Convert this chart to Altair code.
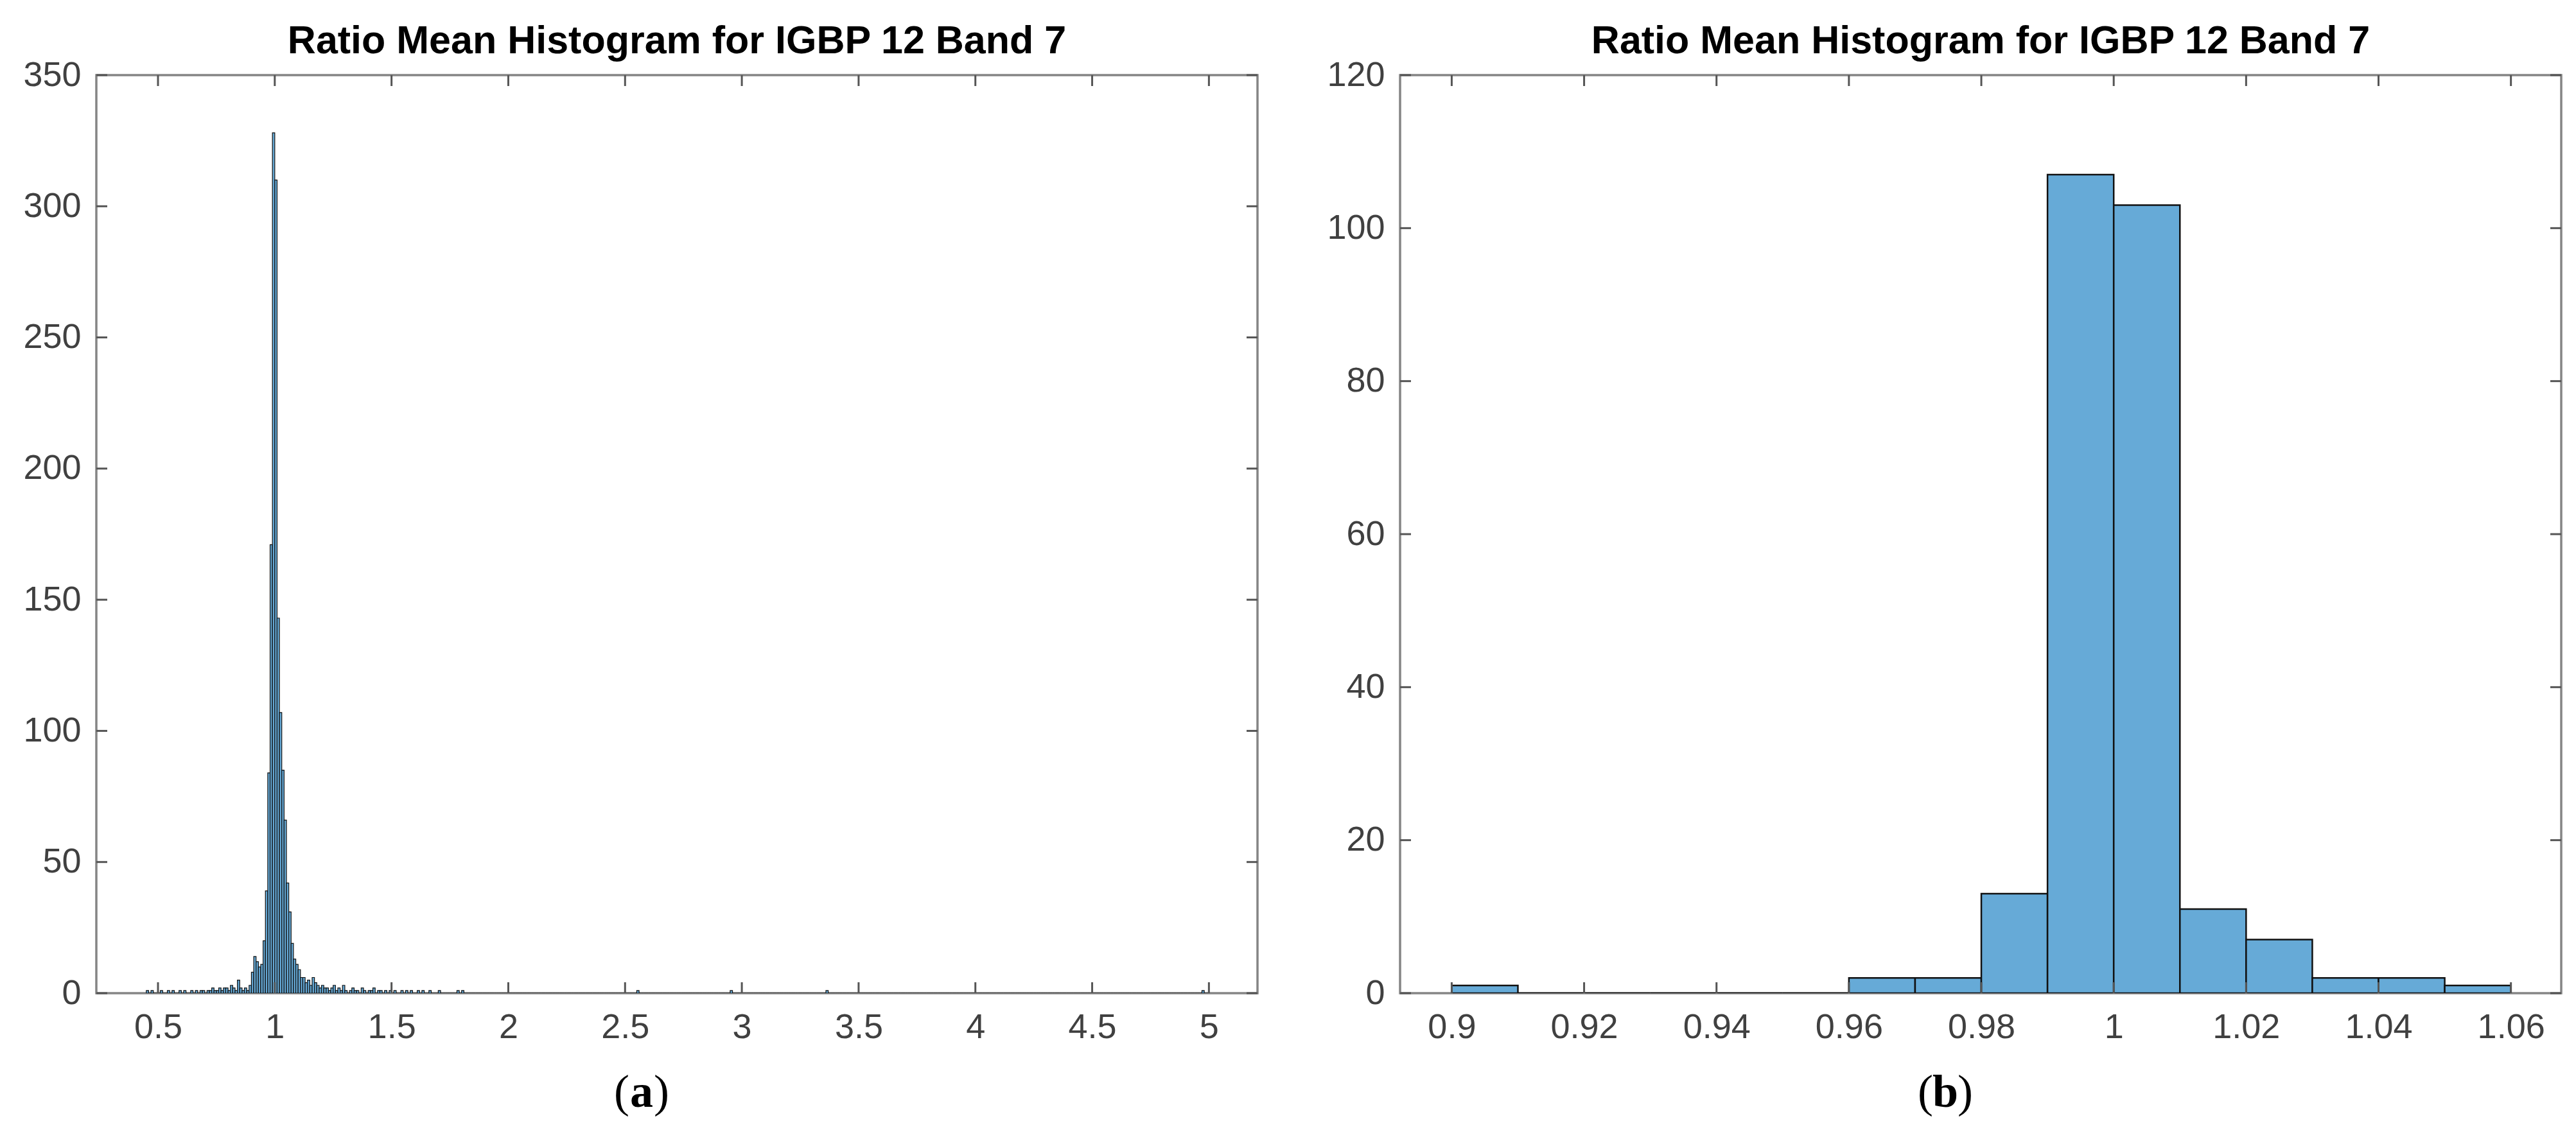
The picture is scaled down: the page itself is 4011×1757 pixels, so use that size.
import altair as alt
import pandas as pd

TITLE = "Ratio Mean Histogram for IGBP 12 Band 7"

# ---------------- data ----------------
# left panel: histogram, bin width 0.01, bins starting at 0.45
LEFT_FIRST_EDGE = 0.45
LEFT_BIN_WIDTH = 0.01
LEFT_LAST_START = 4.99
left_counts_core = [
    1, 0, 1, 0, 0, 0, 1, 0, 0, 1,        # 0.45 - 0.54
    0, 1, 0, 0, 1, 0, 1, 0, 0, 1,        # 0.55 - 0.64
    0, 1, 0, 1, 1, 0, 1, 1, 2, 1,        # 0.65 - 0.74
    1, 2, 1, 2, 2, 1, 3, 2, 1, 5,        # 0.75 - 0.84
    2, 1, 2, 1, 3, 8, 14, 12, 10, 11,    # 0.85 - 0.94
    20, 39, 84, 171, 328, 310, 143, 107, 85, 66,  # 0.95 - 1.04
    42, 31, 19, 13, 11, 9, 6, 6, 4, 5,   # 1.05 - 1.14
    3, 6, 4, 3, 2, 3, 2, 2, 1, 2,        # 1.15 - 1.24
    3, 1, 2, 1, 3, 1, 0, 1, 2, 1,        # 1.25 - 1.34
    1, 0, 2, 1, 0, 1, 1, 2, 0, 1,        # 1.35 - 1.44
    1, 0, 1, 0, 1, 0, 1, 0, 0, 1,        # 1.45 - 1.54
    0, 1, 0, 1, 0, 0, 1, 0, 1, 0,        # 1.55 - 1.64
    0, 1, 0, 0, 0, 1, 0, 0, 0, 0,        # 1.65 - 1.74
    0, 0, 0, 1, 0, 1,                    # 1.75 - 1.80
]
left_outlier_starts = [2.55, 2.95, 3.36, 4.97]
left_outlier_counts = [1, 1, 1, 1]

# right panel: histogram, bin width 0.01, bins starting at 0.90
RIGHT_FIRST_EDGE = 0.90
RIGHT_BIN_WIDTH = 0.01
right_counts = [1, 0, 0, 0, 0, 0, 2, 2, 13, 107, 103, 11, 7, 2, 2, 1]

left_xticks = [0.5, 1, 1.5, 2, 2.5, 3, 3.5, 4, 4.5, 5]
left_yticks = [0, 50, 100, 150, 200, 250, 300, 350]
right_xticks = [0.9, 0.92, 0.94, 0.96, 0.98, 1.0, 1.02, 1.04, 1.06]
right_yticks = [0, 20, 40, 60, 80, 100, 120]

left_xdomain = [0.236, 5.208]
left_ydomain = [0, 350]
right_xdomain = [0.8922, 1.0676]
right_ydomain = [0, 120]

# ---------------- tables ----------------
n_left = int(round((LEFT_LAST_START - LEFT_FIRST_EDGE) / LEFT_BIN_WIDTH)) + 1
left_map = {}
for i, c in enumerate(left_counts_core):
    left_map[i] = c
for s, c in zip(left_outlier_starts, left_outlier_counts):
    left_map[int(round((s - LEFT_FIRST_EDGE) / LEFT_BIN_WIDTH))] = c
left_df = pd.DataFrame({
    "start": [round(LEFT_FIRST_EDGE + i * LEFT_BIN_WIDTH, 4) for i in range(n_left)],
    "end": [round(LEFT_FIRST_EDGE + (i + 1) * LEFT_BIN_WIDTH, 4) for i in range(n_left)],
    "count": [left_map.get(i, 0) for i in range(n_left)],
})
left_df["base"] = 0

right_df = pd.DataFrame({
    "start": [round(RIGHT_FIRST_EDGE + i * RIGHT_BIN_WIDTH, 4) for i in range(len(right_counts))],
    "end": [round(RIGHT_FIRST_EDGE + (i + 1) * RIGHT_BIN_WIDTH, 4) for i in range(len(right_counts))],
    "count": right_counts,
})
right_df["base"] = 0

# ---------------- style ----------------
W, H = 1808, 1430
FILL = "#66AAD7"
TICK_COLOR = "#555555"
TICK_LEN = 17
LABEL_FONT = "Liberation Sans"
LABEL_COLOR = "#404040"
LABEL_SIZE = 54


def panel(df, xdom, ydom, xticks, yticks, letter, stroke_w):
    xs = alt.Scale(domain=xdom, nice=False, zero=False)
    ys = alt.Scale(domain=ydom, nice=False, zero=False)
    xaxis = alt.Axis(
        values=xticks, format="~g", grid=False, domain=False, ticks=False,
        tickSize=0, labelFontSize=LABEL_SIZE, labelFont=LABEL_FONT,
        labelColor=LABEL_COLOR, labelPadding=26, labelFlush=False, title=None)
    yaxis = alt.Axis(
        values=yticks, format="d", grid=False, domain=False, ticks=False,
        tickSize=0, labelFontSize=LABEL_SIZE, labelFont=LABEL_FONT,
        labelColor=LABEL_COLOR, labelPadding=24, minExtent=120, maxExtent=120,
        title=None)
    bars = alt.Chart(df).mark_bar(
        fill=FILL, stroke="#111111", strokeWidth=stroke_w, opacity=1, clip=True
    ).encode(
        x=alt.X("start:Q", scale=xs, axis=xaxis),
        x2="end:Q",
        y=alt.Y("count:Q", scale=ys, axis=yaxis),
        y2="base:Q",
    )
    xt_df = pd.DataFrame({"t": xticks})
    yt_df = pd.DataFrame({"t": yticks})
    xt = alt.Chart(xt_df).mark_rule(color=TICK_COLOR, strokeWidth=3)
    yt = alt.Chart(yt_df).mark_rule(color=TICK_COLOR, strokeWidth=3)
    xb = xt.encode(x=alt.X("t:Q", scale=xs, axis=xaxis), y=alt.value(H), y2=alt.value(H - TICK_LEN))
    xtop = xt.encode(x=alt.X("t:Q", scale=xs, axis=xaxis), y=alt.value(0), y2=alt.value(TICK_LEN))
    yl = yt.encode(y=alt.Y("t:Q", scale=ys, axis=yaxis), x=alt.value(0), x2=alt.value(TICK_LEN))
    yr = yt.encode(y=alt.Y("t:Q", scale=ys, axis=yaxis), x=alt.value(W), x2=alt.value(W - TICK_LEN))

    one = pd.DataFrame({"k": [0]})
    cap_y = H + 177
    cx = 849
    lp = alt.Chart(one).mark_text(text="(", font="Liberation Serif", fontSize=72,
                                  align="right", baseline="alphabetic", color="black").encode(
        x=alt.value(cx - 19), y=alt.value(cap_y))
    lt = alt.Chart(one).mark_text(text=letter, font="Liberation Serif", fontSize=72, fontWeight="bold",
                                  align="center", baseline="alphabetic", color="black").encode(
        x=alt.value(cx), y=alt.value(cap_y))
    rp = alt.Chart(one).mark_text(text=")", font="Liberation Serif", fontSize=72,
                                  align="left", baseline="alphabetic", color="black").encode(
        x=alt.value(cx + 19), y=alt.value(cap_y))

    return alt.layer(bars, xb, xtop, yl, yr, lp, lt, rp).properties(
        width=W, height=H,
        title=alt.TitleParams(TITLE, fontSize=61, font="Liberation Sans", fontWeight="bold",
                              color="#000000", anchor="middle", frame="group", offset=-67,
                              baseline="bottom"),
    )


left = panel(left_df, left_xdomain, left_ydomain, left_xticks, left_yticks, "a", 1.2)
right = panel(right_df, right_xdomain, right_ydomain, right_xticks, right_yticks, "b", 2.5)

chart = alt.hconcat(left, right, spacing=96).properties(
    padding={"left": 20, "top": 24, "right": 5, "bottom": 0},
    background="white",
).configure_view(stroke="#858585", strokeWidth=3.5)

chart.save("out.html", embed_options={"renderer": "svg", "actions": False})
